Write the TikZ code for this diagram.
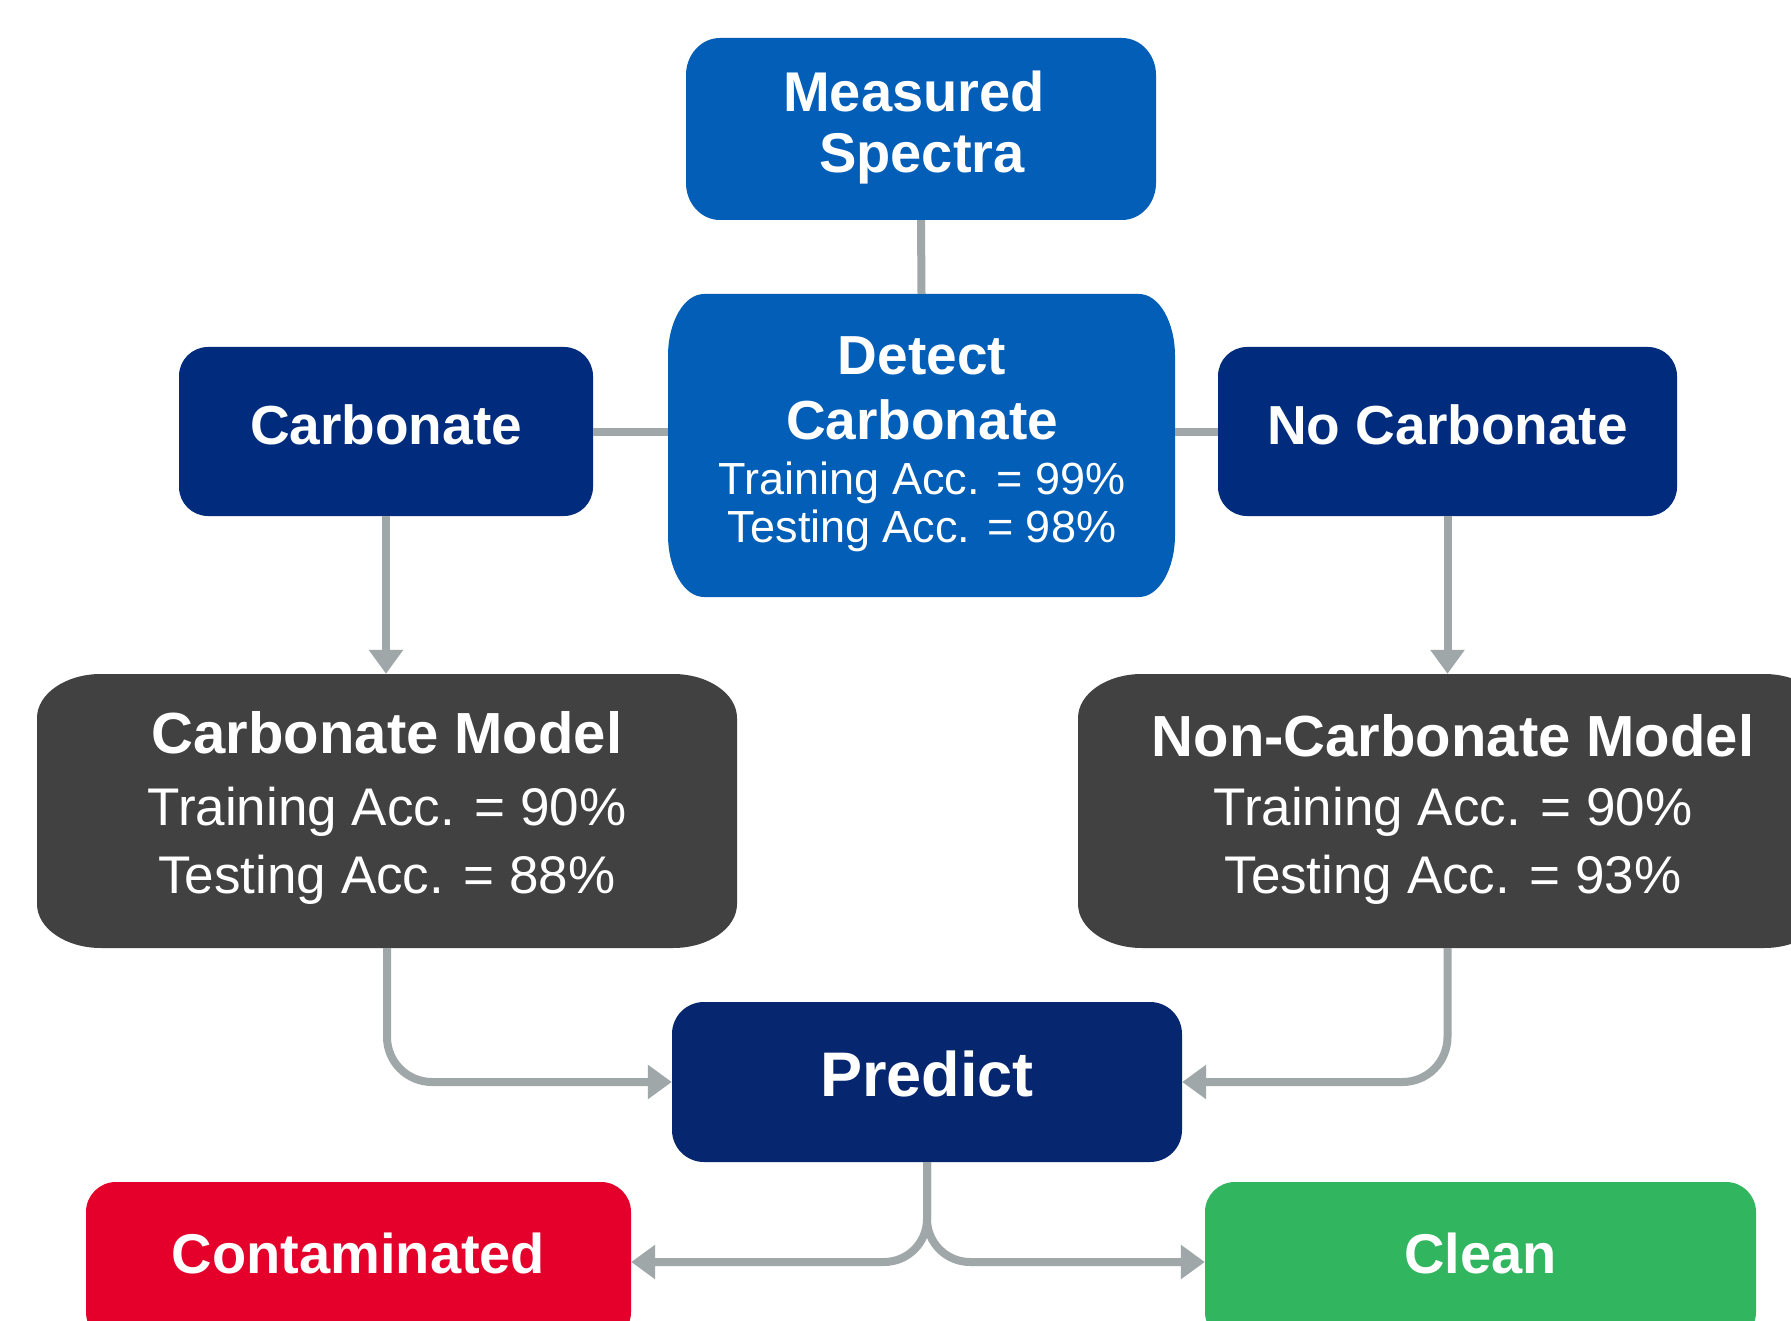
\documentclass[tikz,border=0pt]{standalone}
\usepackage{fontspec}
\setmainfont{Liberation Sans}
\usetikzlibrary{arrows.meta,calc}

\definecolor{skyblue}{HTML}{035EB8}
\definecolor{navyblue}{HTML}{012C7E}
\definecolor{predictblue}{HTML}{06266F}
\definecolor{modelgray}{HTML}{414141}
\definecolor{alertred}{HTML}{E4002B}
\definecolor{okgreen}{HTML}{31B55E}
\definecolor{linkgray}{HTML}{A0A7A9}

\tikzset{
  % rectangle whose four corners are quarter ellipses (x radius #2, y radius #3)
  ebox/.style n args={3}{
    rectangle, inner sep=0pt, text=white, align=center,
    path picture={
      \fill[#1] let \p1=(path picture bounding box.south west),
                    \p2=(path picture bounding box.north east) in
        (\x1+#2,\y1) -- (\x2-#2,\y1)
        arc[start angle=-90,end angle=0,x radius=#2,y radius=#3]
        -- (\x2,\y2-#3)
        arc[start angle=0,end angle=90,x radius=#2,y radius=#3]
        -- (\x1+#2,\y2)
        arc[start angle=90,end angle=180,x radius=#2,y radius=#3]
        -- (\x1,\y1+#3)
        arc[start angle=180,end angle=270,x radius=#2,y radius=#3]
        -- cycle;
    }
  },
  boxsize/.style 2 args={minimum width=#1pt, minimum height=#2pt},
  titlefont/.style={font=\bfseries\fontsize{56}{60}\selectfont},
  % one line of text placed on its baseline
  txtline/.style={anchor=base, inner sep=0pt, text=white},
  headline/.style={txtline, font=\bfseries\fontsize{55}{60}\selectfont},
  modelhead/.style={txtline, font=\bfseries\fontsize{58}{60}\selectfont},
  modelacc/.style={txtline, font=\fontsize{53}{60}\selectfont},
  detectacc/.style={txtline, font=\fontsize{45}{50}\selectfont},
  link/.style={draw=linkgray, line width=8pt},
  arrowlink/.style={link, -{Triangle[width=33pt,length=24pt]}},
}

\begin{document}
\begin{tikzpicture}[x=1pt, y=-1pt]
\clip (0,0) rectangle (1791,1321);
\fill[white] (0,0) rectangle (1791,1321);

% upper row
\node[ebox={skyblue}{34pt}{37pt}, boxsize={470}{182}] (ms) at (921,129) {};
\node[headline, font=\bfseries\fontsize{56}{60}\selectfont] (ms1) at (914,112) {Measured};
\node[headline, font=\bfseries\fontsize{56}{60}\selectfont] (ms2) at (922,172.5) {Spectra};

\node[ebox={skyblue}{36pt}{62pt}, boxsize={507}{303}] (dc) at (921.5,445.5) {};
\node[headline] (dc1) at (922,375) {Detect};
\node[headline] (dc2) at (922,439) {Carbonate};
\node[detectacc] (dc3) at (922,494.5) {Training Acc. = 99\%};
\node[detectacc] (dc4) at (922,542) {Testing Acc. = 98\%};

\node[ebox={navyblue}{29pt}{29pt}, boxsize={414}{169}, titlefont,
      font=\bfseries\fontsize{55}{60}\selectfont, text depth=13pt]
  (cb) at (386,431.5) {Carbonate};
\node[ebox={navyblue}{29pt}{29pt}, boxsize={459}{169},
      font=\bfseries\fontsize{55}{60}\selectfont, text depth=13pt]
  (nc) at (1447.5,431.5) {No Carbonate};

% model boxes
\node[ebox={modelgray}{64pt}{44pt}, boxsize={700}{274}] (cm) at (387,811) {};
\node[modelhead] (cm1) at (387,753) {Carbonate Model};
\node[modelacc] (cm2) at (387,825) {Training Acc. = 90\%};
\node[modelacc] (cm3) at (387,893) {Testing Acc. = 88\%};

\node[ebox={modelgray}{64pt}{44pt}, boxsize={750}{274}] (nm) at (1453,811) {};
\node[modelhead] (nm1) at (1453,756) {Non-Carbonate Model};
\node[modelacc] (nm2) at (1453,825) {Training Acc. = 90\%};
\node[modelacc] (nm3) at (1453,893) {Testing Acc. = 93\%};

% prediction and outcomes
\node[ebox={predictblue}{32pt}{32pt}, boxsize={510}{160},
      font=\bfseries\fontsize{63}{66}\selectfont, text depth=16pt]
  (pr) at (927,1082) {Predict};
\node[ebox={alertred}{30pt}{30pt}, boxsize={545}{160}, titlefont, text depth=17pt]
  (ct) at (358.5,1262) {Contaminated};
\node[ebox={okgreen}{30pt}{30pt}, boxsize={551}{160}, titlefont, text depth=17pt]
  (cl) at (1480.5,1262) {Clean};

% connectors
\draw[link] (ms.south) -- (dc.north);
\draw[link] (cb.east) -- (cb.east -| dc.west);
\draw[link] (nc.west -| dc.east) -- (nc.west);
\draw[arrowlink] (cb.south) -- (cb.south |- cm.north);
\draw[arrowlink] (nc.south) -- (nc.south |- nm.north);
\draw[arrowlink, rounded corners=45pt] (cm.south) |- (pr.west);
\draw[arrowlink, rounded corners=45pt] (nc.south |- nm.south) |- (pr.east);
\draw[arrowlink, rounded corners=43pt] (pr.south) |- (ct.east);
\draw[arrowlink, rounded corners=43pt] (pr.south) |- (cl.west);
\end{tikzpicture}
\end{document}
